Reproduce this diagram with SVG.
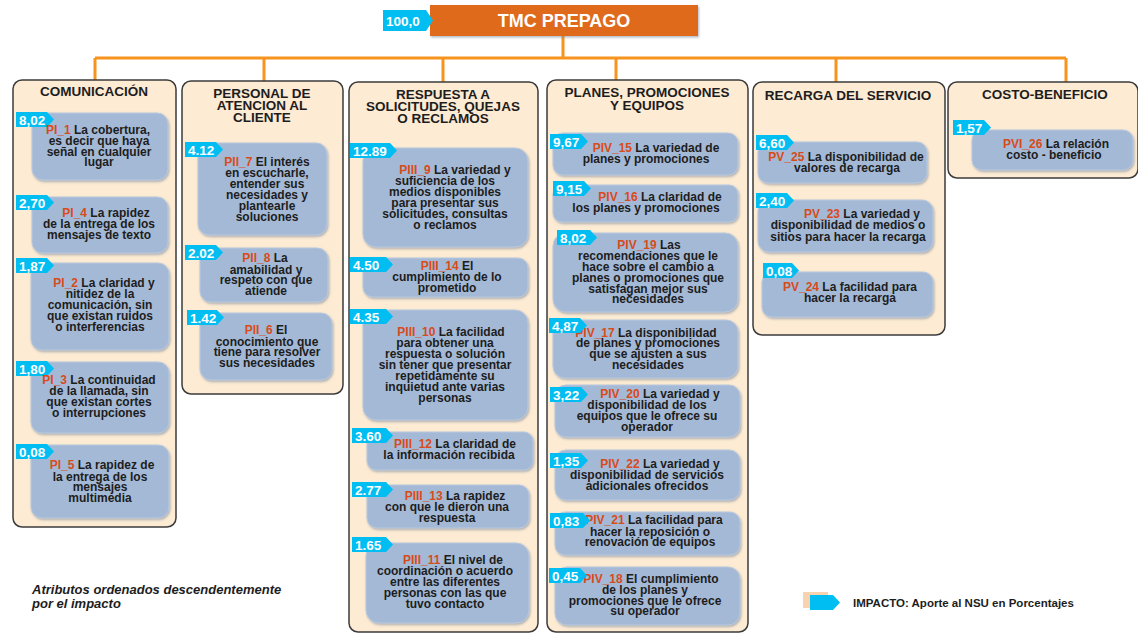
<svg xmlns="http://www.w3.org/2000/svg" width="1138" height="633" viewBox="0 0 1138 633">
<defs>
<style>
.col{fill:#FDEBD3;stroke:#3b3b3b;stroke-width:1.5}
.card{fill:#A4B9D6;stroke:#B9C9DE;stroke-width:1;filter:url(#sh)}
.bd{fill:#00BEF2}
.bt{font-family:"Liberation Sans",Arial,sans-serif;font-weight:bold;font-size:13.5px;fill:#fff}
.t{font-family:"Liberation Sans",Arial,sans-serif;font-weight:bold;font-size:12px;fill:#1d1d1d;text-anchor:middle}
.k{fill:#D84B1A}
.h{font-family:"Liberation Sans",Arial,sans-serif;font-weight:bold;font-size:13.5px;fill:#1d1d1d;text-anchor:middle}
.cn{stroke:#F7941D;stroke-width:3;fill:none}
</style>
<filter id="sh" x="-10%" y="-10%" width="120%" height="130%">
<feDropShadow dx="1" dy="1.5" stdDeviation="1" flood-color="#6d7d96" flood-opacity="0.55"/>
</filter>
</defs>
<rect width="1138" height="633" fill="#fff"/>

<g id="connectors">
<path class="cn" d="M563 36V58M95 58H1066M95 58V80M264 58V82M443 58V82M616 58V80M836 58V82M1066 58V82"/>
</g>

<g id="root">
<rect x="430" y="5" width="268" height="31" fill="#E06A1F" filter="url(#sh)"/>
<text x="564" y="26.5" font-family="Liberation Sans, Arial, sans-serif" font-weight="bold" font-size="18" fill="#fff" text-anchor="middle">TMC PREPAGO</text>
<polygon class="bd" points="383,10 426,10 433,20.5 426,31 383,31"/>
<text class="bt" x="386" y="26">100,0</text>
</g>

<g id="col-comunicacion">
<rect class="col" x="13" y="80" width="163" height="447" rx="9"/>
<text class="h" x="94" y="96">COMUNICACIÓN</text>
</g>
<g id="pi1">
<rect class="card" x="32" y="113" width="136" height="67" rx="11"/>
<polygon class="bd" points="16,112 47,112 54,119.5 47,127 16,127"/>
<text class="bt" x="19" y="124.5">8,02</text>
<text class="t"><tspan x="98" y="134"><tspan class="k">PI_1</tspan> La cobertura,</tspan><tspan x="99" y="145">es decir que haya</tspan><tspan x="99" y="155.5">señal en cualquier</tspan><tspan x="99" y="166">lugar</tspan></text>
</g>
<g id="pi4">
<rect class="card" x="32" y="197" width="136" height="56" rx="11"/>
<polygon class="bd" points="16,195 47,195 54,202.5 47,210 16,210"/>
<text class="bt" x="19" y="207.5">2,70</text>
<text class="t"><tspan x="106" y="217"><tspan class="k">PI_4</tspan> La rapidez</tspan><tspan x="99" y="228">de la entrega de los</tspan><tspan x="99" y="239">mensajes de texto</tspan></text>
</g>
<g id="pi2">
<rect class="card" x="31" y="263" width="138" height="87" rx="11"/>
<polygon class="bd" points="16,258 47,258 54,265.5 47,273 16,273"/>
<text class="bt" x="19" y="270.5">1,87</text>
<text class="t"><tspan x="104" y="287"><tspan class="k">PI_2</tspan> La claridad y</tspan><tspan x="100" y="298">nitidez de la</tspan><tspan x="100" y="309">comunicación, sin</tspan><tspan x="100" y="320">que existan ruidos</tspan><tspan x="100" y="331">o interferencias</tspan></text>
</g>
<g id="pi3">
<rect class="card" x="31" y="362" width="138" height="71" rx="11"/>
<polygon class="bd" points="16,361 47,361 54,368.5 47,376 16,376"/>
<text class="bt" x="19" y="373.5">1,80</text>
<text class="t"><tspan x="99" y="384"><tspan class="k">PI_3</tspan> La continuidad</tspan><tspan x="99" y="395">de la llamada, sin</tspan><tspan x="99" y="406">que existan cortes</tspan><tspan x="99" y="417">o interrupciones</tspan></text>
</g>
<g id="pi5">
<rect class="card" x="31" y="445" width="138" height="73" rx="11"/>
<polygon class="bd" points="16,444 47,444 54,451.5 47,459 16,459"/>
<text class="bt" x="19" y="456.5">0,08</text>
<text class="t"><tspan x="102" y="469"><tspan class="k">PI_5</tspan> La rapidez de</tspan><tspan x="100" y="480.5">la entrega de los</tspan><tspan x="100" y="491">mensajes</tspan><tspan x="100" y="502">multimedia</tspan></text>
</g>

<g id="col-personal">
<rect class="col" x="182" y="81" width="161" height="313" rx="9"/>
<text class="h"><tspan x="262" y="98">PERSONAL DE</tspan><tspan x="262" y="110">ATENCION AL</tspan><tspan x="262" y="122">CLIENTE</tspan></text>
</g>
<g id="pii7">
<rect class="card" x="198" y="143" width="129" height="92" rx="11"/>
<polygon class="bd" points="185,142 216,142 223,149.5 216,157 185,157"/>
<text class="bt" x="188" y="154.5">4.12</text>
<text class="t"><tspan x="267" y="166"><tspan class="k">PII_7</tspan> El interés</tspan><tspan x="267" y="177">en escucharle,</tspan><tspan x="267" y="188">entender sus</tspan><tspan x="267" y="199">necesidades y</tspan><tspan x="267" y="210">plantearle</tspan><tspan x="267" y="221">soluciones</tspan></text>
</g>
<g id="pii8">
<rect class="card" x="200" y="248" width="128" height="54" rx="11"/>
<polygon class="bd" points="185,245 216,245 223,252.5 216,260 185,260"/>
<text class="bt" x="188" y="257.5">2.02</text>
<text class="t"><tspan x="265" y="262"><tspan class="k">PII_8</tspan> La</tspan><tspan x="266" y="273.5">amabilidad y</tspan><tspan x="266" y="284">respeto con que</tspan><tspan x="266" y="295">atiende</tspan></text>
</g>
<g id="pii6">
<rect class="card" x="200" y="313" width="132" height="67" rx="11"/>
<polygon class="bd" points="187,310 217,310 224,317.5 217,325 187,325"/>
<text class="bt" x="190" y="322.5">1.42</text>
<text class="t"><tspan x="266" y="334"><tspan class="k">PII_6</tspan>  El</tspan><tspan x="267" y="345.5">conocimiento que</tspan><tspan x="267" y="356">tiene para resolver</tspan><tspan x="267" y="366.5">sus necesidades</tspan></text>
</g>

<g id="col-respuesta">
<rect class="col" x="349" y="82" width="189" height="550" rx="9"/>
<text class="h"><tspan x="443" y="99">RESPUESTA A</tspan><tspan x="443" y="111">SOLICITUDES, QUEJAS</tspan><tspan x="443" y="123">O RECLAMOS</tspan></text>
</g>
<g id="piii9">
<rect class="card" x="363" y="148" width="165" height="99" rx="13"/>
<polygon class="bd" points="350,143 390,143 397,150.5 390,158 350,158"/>
<text class="bt" x="353" y="155.5">12.89</text>
<text class="t"><tspan x="455" y="174"><tspan class="k">PIII_9</tspan> La variedad y</tspan><tspan x="445" y="185">suficiencia de los</tspan><tspan x="445" y="196">medios disponibles</tspan><tspan x="445" y="207">para presentar sus</tspan><tspan x="445" y="217.5">solicitudes, consultas</tspan><tspan x="445" y="228.5">o reclamos</tspan></text>
</g>
<g id="piii14">
<rect class="card" x="363" y="258" width="165" height="39" rx="10"/>
<polygon class="bd" points="350,257 386,257 393,264.5 386,272 350,272"/>
<text class="bt" x="353" y="269.5">4.50</text>
<text class="t"><tspan x="447" y="270"><tspan class="k">PIII_14</tspan>   El</tspan><tspan x="447" y="281">cumplimiento de lo</tspan><tspan x="447" y="291.5">prometido</tspan></text>
</g>
<g id="piii10">
<rect class="card" x="363" y="310" width="165" height="110" rx="13"/>
<polygon class="bd" points="350,309 386,309 393,316.5 386,324 350,324"/>
<text class="bt" x="353" y="321.5">4.35</text>
<text class="t"><tspan x="451" y="336"><tspan class="k">PIII_10</tspan> La facilidad</tspan><tspan x="445" y="347">para obtener una</tspan><tspan x="445" y="358">respuesta o solución</tspan><tspan x="445" y="369">sin tener que presentar</tspan><tspan x="445" y="380">repetidamente su</tspan><tspan x="445" y="391">inquietud ante varias</tspan><tspan x="445" y="402">personas</tspan></text>
</g>
<g id="piii12">
<rect class="card" x="367" y="432" width="166" height="38" rx="9"/>
<polygon class="bd" points="352,428 386,428 393,435.5 386,443 352,443"/>
<text class="bt" x="355" y="440.5">3.60</text>
<text class="t"><tspan x="455" y="447.5"><tspan class="k">PIII_12</tspan> La claridad de</tspan><tspan x="449" y="458.5">la información recibida</tspan></text>
</g>
<g id="piii13">
<rect class="card" x="367" y="485" width="162" height="43" rx="10"/>
<polygon class="bd" points="352,482 386,482 393,489.5 386,497 352,497"/>
<text class="bt" x="355" y="494.5">2.77</text>
<text class="t"><tspan x="455" y="500"><tspan class="k">PIII_13</tspan>  La rapidez</tspan><tspan x="447" y="511">con que le dieron una</tspan><tspan x="447" y="521.5">respuesta</tspan></text>
</g>
<g id="piii11">
<rect class="card" x="366" y="543" width="163" height="80" rx="13"/>
<polygon class="bd" points="352,537 386,537 393,544.5 386,552 352,552"/>
<text class="bt" x="355" y="549.5">1.65</text>
<text class="t"><tspan x="453" y="564"><tspan class="k">PIII_11</tspan> El nivel de</tspan><tspan x="445" y="575">coordinación o acuerdo</tspan><tspan x="445" y="586">entre las diferentes</tspan><tspan x="445" y="597">personas con las que</tspan><tspan x="445" y="607.5">tuvo contacto</tspan></text>
</g>

<g id="col-planes">
<rect class="col" x="547" y="80" width="201" height="552" rx="9"/>
<text class="h"><tspan x="647" y="97">PLANES, PROMOCIONES</tspan><tspan x="647" y="110">Y EQUIPOS</tspan></text>
</g>
<g id="piv15">
<rect class="card" x="553" y="133" width="185" height="42" rx="10"/>
<polygon class="bd" points="550,134 581,134 588,141.5 581,149 550,149"/>
<text class="bt" x="553" y="146.5">9,67</text>
<text class="t"><tspan x="656" y="152"><tspan class="k">PIV_15</tspan> La variedad de</tspan><tspan x="646" y="162.5">planes y promociones</tspan></text>
</g>
<g id="piv16">
<rect class="card" x="553" y="185" width="185" height="37" rx="9"/>
<polygon class="bd" points="553,181 584,181 591,188.5 584,196 553,196"/>
<text class="bt" x="556" y="193.5">9,15</text>
<text class="t"><tspan x="660" y="201"><tspan class="k">PIV_16</tspan> La claridad de</tspan><tspan x="646" y="211.5">los planes y promociones</tspan></text>
</g>
<g id="piv19">
<rect class="card" x="553" y="233" width="185" height="79" rx="13"/>
<polygon class="bd" points="557,230 590,230 597,237.5 590,245 557,245"/>
<text class="bt" x="560" y="242.5">8,02</text>
<text class="t"><tspan x="649" y="248.5"><tspan class="k">PIV_19</tspan> Las</tspan><tspan x="648" y="259.5">recomendaciones que le</tspan><tspan x="648" y="270.5">hace sobre el cambio a</tspan><tspan x="648" y="281.5">planes o promociones que</tspan><tspan x="648" y="292.5">satisfagan mejor sus</tspan><tspan x="648" y="303">necesidades</tspan></text>
</g>
<g id="piv17">
<rect class="card" x="553" y="320" width="185" height="58" rx="12"/>
<text class="t"><tspan x="646" y="336.5"><tspan class="k">PIV_17</tspan>  La disponibilidad</tspan><tspan x="648" y="347">de planes y promociones</tspan><tspan x="648" y="358">que se ajusten a sus</tspan><tspan x="648" y="369">necesidades</tspan></text>
<polygon class="bd" points="549,318 580,318 587,325.5 580,333 549,333"/>
<text class="bt" x="552" y="330.5">4,87</text>
</g>
<g id="piv20">
<rect class="card" x="555" y="385" width="185" height="52" rx="11"/>
<polygon class="bd" points="550,387 581,387 588,394.5 581,402 550,402"/>
<text class="bt" x="553" y="399.5">3,22</text>
<text class="t"><tspan x="660" y="398"><tspan class="k">PIV_20</tspan> La variedad y</tspan><tspan x="647" y="409">disponibilidad de los</tspan><tspan x="647" y="420">equipos que le ofrece su</tspan><tspan x="647" y="431">operador</tspan></text>
</g>
<g id="piv22">
<rect class="card" x="555" y="450" width="185" height="50" rx="11"/>
<polygon class="bd" points="550,453 581,453 588,460.5 581,468 550,468"/>
<text class="bt" x="553" y="465.5">1,35</text>
<text class="t"><tspan x="660" y="467.5"><tspan class="k">PIV_22</tspan> La variedad y</tspan><tspan x="647" y="478.5">disponibilidad de servicios</tspan><tspan x="647" y="489.5">adicionales ofrecidos</tspan></text>
</g>
<g id="piv21">
<rect class="card" x="555" y="512" width="185" height="43" rx="10"/>
<text class="t"><tspan x="654" y="524"><tspan class="k">PIV_21</tspan> La facilidad para</tspan><tspan x="650" y="535.5">hacer la reposición o</tspan><tspan x="650" y="546">renovación de equipos</tspan></text>
<polygon class="bd" points="550,513 583,513 590,520.5 583,528 550,528"/>
<text class="bt" x="553" y="525.5">0,83</text>
</g>
<g id="piv18">
<rect class="card" x="555" y="567" width="185" height="58" rx="12"/>
<text class="t"><tspan x="651" y="583"><tspan class="k">PIV_18</tspan> El cumplimiento</tspan><tspan x="645" y="594">de los planes y</tspan><tspan x="645" y="604.5">promociones que le ofrece</tspan><tspan x="645" y="615">su operador</tspan></text>
<polygon class="bd" points="549,568 580,568 587,575.5 580,583 549,583"/>
<text class="bt" x="552" y="580.5">0,45</text>
</g>

<g id="col-recarga">
<rect class="col" x="753" y="82" width="192" height="253" rx="9"/>
<text class="h" x="848" y="100">RECARGA DEL SERVICIO</text>
</g>
<g id="pv25">
<rect class="card" x="758" y="142" width="169" height="41" rx="10"/>
<polygon class="bd" points="756,135 787,135 794,142.5 787,150 756,150"/>
<text class="bt" x="759" y="147.5">6,60</text>
<text class="t"><tspan x="846" y="161"><tspan class="k">PV_25</tspan> La disponibilidad de</tspan><tspan x="847" y="172">valores de recarga</tspan></text>
</g>
<g id="pv23">
<rect class="card" x="758" y="200" width="175" height="52" rx="11"/>
<polygon class="bd" points="756,193 787,193 794,200.5 787,208 756,208"/>
<text class="bt" x="759" y="205.5">2,40</text>
<text class="t"><tspan x="862" y="217.5"><tspan class="k">PV_23</tspan> La variedad y</tspan><tspan x="848" y="229">disponibilidad de medios o</tspan><tspan x="848" y="240.5">sitios para hacer la recarga</tspan></text>
</g>
<g id="pv24">
<rect class="card" x="762" y="272" width="171" height="45" rx="10"/>
<polygon class="bd" points="763,263 792,263 799,270.5 792,278 763,278"/>
<text class="bt" x="766" y="275.5">0,08</text>
<text class="t"><tspan x="850" y="291"><tspan class="k">PV_24</tspan> La facilidad para</tspan><tspan x="850" y="302">hacer la recarga</tspan></text>
</g>

<g id="col-costo">
<rect class="col" x="948" y="82" width="190" height="96" rx="9"/>
<text class="h" x="1045" y="99">COSTO-BENEFICIO</text>
</g>
<g id="pvi26">
<rect class="card" x="972" y="130" width="161" height="40" rx="10"/>
<polygon class="bd" points="953,120 984,120 991,127.5 984,135 953,135"/>
<text class="bt" x="956" y="132.5">1,57</text>
<text class="t"><tspan x="1056" y="147.5"><tspan class="k">PVI_26</tspan> La relación</tspan><tspan x="1054" y="159">costo - beneficio</tspan></text>
</g>

<g id="footnote">
<text font-family="Liberation Sans, Arial, sans-serif" font-weight="bold" font-style="italic" font-size="13" fill="#1d1d1d"><tspan x="32" y="594">Atributos ordenados descendentemente</tspan><tspan x="32" y="608">por el impacto</tspan></text>
</g>

<g id="legend">
<rect x="803" y="592" width="25" height="16" fill="#F9D3B0"/>
<polygon class="bd" points="810,595 833,595 840,602.5 833,610 810,610"/>
<text x="853" y="607" font-family="Liberation Sans, Arial, sans-serif" font-weight="bold" font-size="11.5" fill="#1d1d1d">IMPACTO: Aporte al NSU en Porcentajes</text>
</g>
</svg>
